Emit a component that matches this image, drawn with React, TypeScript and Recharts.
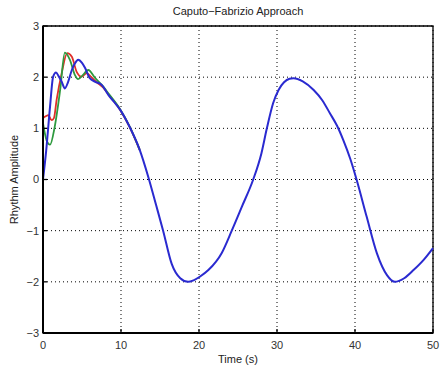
import React from "react";
import {
  LineChart,
  Line,
  XAxis,
  YAxis,
  CartesianGrid,
  ReferenceArea,
} from "recharts";

// blue series (main response)
const blueTime = [
  0, 0.4, 0.9, 1.3, 1.67, 2.0, 2.4, 2.8, 3.2, 3.7, 4.1, 4.5, 5.0, 5.4, 6.0, 6.7, 7.5, 8.4, 9.2, 9.9,
  11.1, 12.4, 13.5, 14.5, 15.4, 16.5, 17.6, 18.6, 19.3, 20.1, 21.2, 22.9, 24.2, 25.5, 26.95, 28.0,
  28.7, 29.5, 30.2, 30.9, 31.6, 32.1, 33.3, 34.7, 35.8, 36.8, 37.7, 38.5, 39.4, 40.2, 41.5, 42.8,
  44.1, 45.1, 46.3, 47.5, 48.8, 50,
];
const blueValues = [
  0, 0.55, 1.42, 2.01, 2.09, 2.02, 1.91, 1.78, 1.9, 2.14, 2.27, 2.34, 2.28, 2.18, 1.98, 1.91, 1.85,
  1.65, 1.5, 1.36, 1.03, 0.58, 0.05, -0.5, -1.0, -1.65, -1.93, -2.0, -1.97, -1.9, -1.77, -1.44, -1.0,
  -0.53, 0, 0.51, 1.0, 1.49, 1.75, 1.9, 1.97, 1.98, 1.92, 1.75, 1.55, 1.29, 1.05, 0.77, 0.4, 0,
  -0.73, -1.44, -1.87, -2.0, -1.93, -1.77, -1.57, -1.34,
];

// red series
const redTime = [0, 0.4, 0.68, 1.1, 1.4, 1.75, 2.4, 3.1, 3.7, 4.3, 4.95, 5.6, 6.2, 6.9, 7.7, 8.4, 9.9, 11.1, 12.4];
const redValues = [1.2, 1.24, 1.26, 1.16, 1.2, 1.56, 2.08, 2.47, 2.4, 2.11, 2.01, 2.08, 2.0, 1.9, 1.8, 1.66, 1.36, 1.03, 0.58];

// green series
const greenTime = [0, 0.45, 0.9, 1.5, 2.2, 2.8, 3.45, 4.1, 4.5, 5.1, 5.8, 6.7, 7.7, 8.4, 9.9, 11.1, 12.4];
const greenValues = [1.1, 0.77, 0.68, 1.03, 1.75, 2.48, 2.34, 2.04, 1.96, 2.04, 2.14, 1.98, 1.82, 1.68, 1.37, 1.04, 0.58];

const xTicks = [0, 10, 20, 30, 40, 50];
const yTicks = [-3, -2, -1, 0, 1, 2, 3];

const toPoints = (ts: number[], vs: number[]) => ts.map((t, i) => ({ t, v: vs[i] }));

const font = "'Liberation Sans', Arial, sans-serif";

export default function App() {
  return (
    <div style={{ position: "absolute", left: 0, top: 0, width: 441, height: 367, background: "#fff" }}>
      <div
        style={{
          position: "absolute",
          left: 43,
          width: 390,
          top: 5,
          textAlign: "center",
          fontFamily: font,
          fontSize: 11,
          color: "#222",
        }}
      >
        Caputo−Fabrizio Approach
      </div>
      <LineChart width={441} height={367} margin={{ top: 26, right: 8, bottom: 0, left: 0 }}>
        <CartesianGrid stroke="#000" strokeDasharray="1 3" horizontalValues={yTicks} verticalValues={xTicks} />
        <ReferenceArea x1={0} x2={50} y1={-3} y2={3} fill="none" stroke="#000" strokeWidth={1.3} />
        <XAxis
          type="number"
          dataKey="t"
          domain={[0, 50]}
          ticks={xTicks}
          height={34}
          axisLine={{ stroke: "#000", strokeWidth: 2 }}
          tickLine={{ stroke: "#000", strokeWidth: 1.3 }}
          tickSize={-4}
          tickMargin={12}
          tick={{ fill: "#333", fontSize: 11, fontFamily: font }}
          label={{ value: "Time (s)", position: "insideBottom", offset: 4, fill: "#222", fontSize: 11, fontFamily: font }}
          allowDuplicatedCategory={false}
        />
        <YAxis
          type="number"
          domain={[-3, 3]}
          ticks={yTicks}
          width={43}
          axisLine={{ stroke: "#000", strokeWidth: 2 }}
          tickLine={{ stroke: "#000", strokeWidth: 1.3 }}
          tickSize={-4}
          tickMargin={8}
          tickFormatter={(v: number) => String(v).replace("-", "−")}
          tick={{ fill: "#333", fontSize: 11, fontFamily: font }}
          label={{
            value: "Rhythm Amplitude",
            angle: -90,
            position: "insideLeft",
            offset: 14,
            fill: "#222",
            fontSize: 11,
            fontFamily: font,
            style: { textAnchor: "middle" },
          }}
        />
        <Line
          data={toPoints(redTime, redValues)}
          dataKey="v"
          type="monotone"
          stroke="#e0302a"
          strokeWidth={1.8}
          dot={false}
          isAnimationActive={false}
        />
        <Line
          data={toPoints(greenTime, greenValues)}
          dataKey="v"
          type="monotone"
          stroke="#2e9a3e"
          strokeWidth={1.8}
          dot={false}
          isAnimationActive={false}
        />
        <Line
          data={toPoints(blueTime, blueValues)}
          dataKey="v"
          type="monotone"
          stroke="#2a2ad0"
          strokeWidth={2}
          dot={false}
          isAnimationActive={false}
        />
      </LineChart>
    </div>
  );
}
